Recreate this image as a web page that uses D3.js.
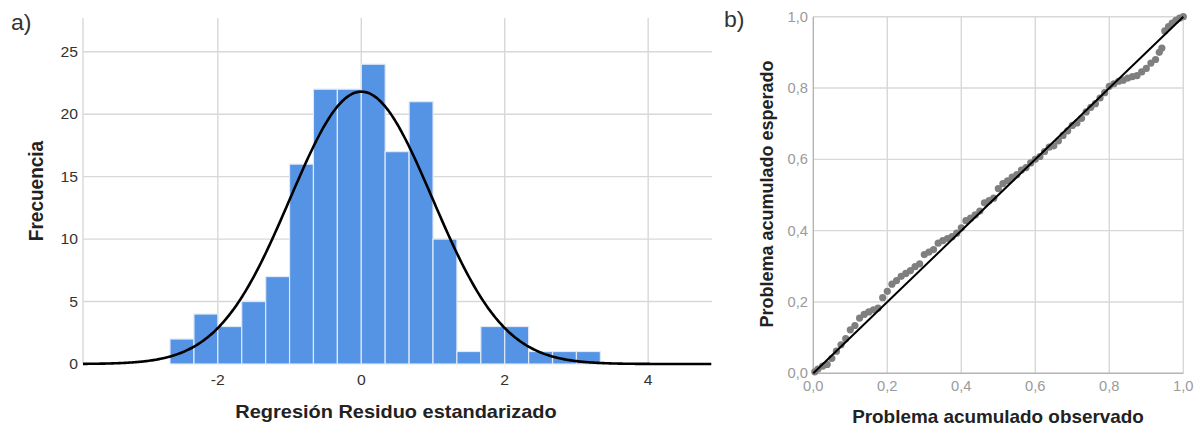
<!DOCTYPE html>
<html>
<head>
<meta charset="utf-8">
<script src="https://cdn.jsdelivr.net/npm/d3@7"></script>
<style>
  body { margin: 0; background: #fff; }
  svg { display: block; }
  text { font-family: "Liberation Sans", Arial, sans-serif; }
</style>
</head>
<body>
<svg id="chart" width="1195" height="427"></svg>
<script>
// ---- histogram (a) ----
const binLefts = [-2.667, -2.333, -2, -1.667, -1.333, -1, -0.667, -0.333, 0, 0.333, 0.667, 1, 1.333, 1.667, 2, 2.333, 2.667, 3]
const binWidth = 1 / 3
const binCounts = [2, 4, 3, 5, 7, 16, 22, 22, 24, 17, 21, 10, 1, 3, 3, 1, 1, 1]
const histXTicks = [-2, 0, 2, 4]
const histYTicks = [0, 5, 10, 15, 20, 25]
// fitted normal curve
const curveMean = 0
const curveSd = 0.994

// ---- P-P plot (b): [observed, expected] ----
const ppPoints = [
    [0.004, 0.004], [0.0125, 0.012], [0.025, 0.02], [0.0375, 0.025], [0.05, 0.042], [0.0625, 0.062],
    [0.075, 0.08], [0.0875, 0.097], [0.1, 0.122], [0.1125, 0.134], [0.125, 0.155], [0.1375, 0.165],
    [0.15, 0.172], [0.1625, 0.178], [0.175, 0.183], [0.1875, 0.212], [0.2, 0.23], [0.2125, 0.25],
    [0.225, 0.26], [0.2375, 0.272], [0.25, 0.28], [0.2625, 0.288], [0.275, 0.299], [0.2875, 0.307],
    [0.3, 0.333], [0.3125, 0.34], [0.325, 0.347], [0.3375, 0.365], [0.35, 0.372], [0.3625, 0.378],
    [0.375, 0.383], [0.3875, 0.393], [0.4, 0.408], [0.4125, 0.428], [0.425, 0.435], [0.4375, 0.444],
    [0.45, 0.455], [0.4625, 0.478], [0.475, 0.484], [0.4875, 0.491], [0.5, 0.518], [0.5125, 0.532],
    [0.525, 0.54], [0.5375, 0.55], [0.55, 0.557], [0.5625, 0.57], [0.575, 0.577], [0.5875, 0.59],
    [0.6, 0.6], [0.6125, 0.608], [0.625, 0.622], [0.6375, 0.634], [0.65, 0.638], [0.6625, 0.652],
    [0.675, 0.667], [0.6875, 0.68], [0.7, 0.695], [0.7125, 0.702], [0.725, 0.715], [0.7375, 0.733],
    [0.75, 0.746], [0.7625, 0.756], [0.775, 0.772], [0.7875, 0.787], [0.8, 0.805], [0.8125, 0.812],
    [0.825, 0.819], [0.8375, 0.822], [0.85, 0.828], [0.8625, 0.832], [0.875, 0.835], [0.8875, 0.845],
    [0.9, 0.855], [0.9125, 0.87], [0.925, 0.88], [0.935, 0.9], [0.942, 0.912],
    [0.95, 0.96], [0.96, 0.972], [0.97, 0.982], [0.98, 0.99], [0.99, 0.996], [1.0, 1.0]
]
const ppTicks = [0, 0.2, 0.4, 0.6, 0.8, 1.0]

const svg = d3.select('#chart')
const stretch = 1.05   // the reference text is a touch wider than tall
const gridColor = '#d8d8d8'

let addText = (g, str, x, y, opts) => {
    let rot = opts.rotate ? ' rotate(-90) scale(1,' + stretch + ')' : ' scale(' + stretch + ',1)'
    return g.append('text')
        .text(str)
        .attr('transform', 'translate(' + x + ',' + y + ')' + rot)
        .attr('text-anchor', opts.anchor || 'middle')
        .attr('font-size', opts.size)
        .attr('font-weight', opts.weight || 'normal')
        .attr('fill', opts.fill || '#222')
}

// ================= (a) histogram =================
const hx = d3.scaleLinear().domain([-3.88, 4.89]).range([83, 712])
const hy = d3.scaleLinear().domain([0, 27.7]).range([364, 18])
const ga = svg.append('g')

ga.selectAll('.hgrid')
    .data(histYTicks.filter(d => d > 0))
    .enter()
    .append('line')
    .attr('x1', hx.range()[0]).attr('x2', hx.range()[1])
    .attr('y1', d => hy(d)).attr('y2', d => hy(d))
    .attr('stroke', gridColor).attr('stroke-width', 1.4)

ga.selectAll('.vgrid')
    .data(histXTicks)
    .enter()
    .append('line')
    .attr('x1', d => hx(d)).attr('x2', d => hx(d))
    .attr('y1', hy.range()[0]).attr('y2', hy.range()[1])
    .attr('stroke', gridColor).attr('stroke-width', 1.4)

// left frame line
ga.append('line')
    .attr('x1', hx.range()[0]).attr('x2', hx.range()[0])
    .attr('y1', hy.range()[0]).attr('y2', hy.range()[1])
    .attr('stroke', gridColor).attr('stroke-width', 1.4)

ga.selectAll('rect')
    .data(binLefts)
    .enter()
    .append('rect')
    .attr('x', d => hx(d))
    .attr('width', d => hx(d + binWidth) - hx(d))
    .attr('y', (d, i) => hy(binCounts[i]))
    .attr('height', (d, i) => hy(0) - hy(binCounts[i]))
    .attr('fill', '#5593e4')
    .attr('stroke', '#dfe9f8')
    .attr('stroke-width', 1.2)

const total = d3.sum(binCounts)
const curveLine = d3.line()
    .x(d => hx(d))
    .y(d => hy(total * binWidth * Math.exp(-0.5 * Math.pow((d - curveMean) / curveSd, 2)) / (curveSd * Math.sqrt(2 * Math.PI))))
    .curve(d3.curveBasis)

ga.append('path')
    .attr('d', curveLine(d3.range(hx.domain()[0], hx.domain()[1] + 0.001, 0.02)))
    .attr('fill', 'none')
    .attr('stroke', '#000')
    .attr('stroke-width', 2.6)

histYTicks.forEach(t => {
    addText(ga, t, 78, hy(t) + 5, { anchor: 'end', size: 15, fill: '#333' })
})
histXTicks.forEach(t => {
    addText(ga, t < 0 ? '-' + Math.abs(t) : t, hx(t), 385, { size: 15, fill: '#333' })
})
addText(ga, 'Regresión Residuo estandarizado', 396, 418, { size: 19, weight: 'bold' })
addText(ga, 'Frecuencia', 43, 191, { size: 19, weight: 'bold', rotate: true })
addText(ga, 'a)', 11, 30, { anchor: 'start', size: 22, fill: '#333' }).attr('font-family', 'Lato').attr('font-weight', 300)

// ================= (b) P-P plot =================
const px = d3.scaleLinear().domain([0, 1]).range([813.3, 1183.3])
const py = d3.scaleLinear().domain([0, 1]).range([373.3, 16.7])
const gb = svg.append('g')

gb.selectAll('.ppv')
    .data(ppTicks.filter(d => d > 0))
    .enter()
    .append('line')
    .attr('x1', d => px(d)).attr('x2', d => px(d))
    .attr('y1', py(0)).attr('y2', py(1))
    .attr('stroke', gridColor).attr('stroke-width', 1.4)

gb.selectAll('.pph')
    .data(ppTicks.filter(d => d > 0))
    .enter()
    .append('line')
    .attr('x1', px(0)).attr('x2', px(1))
    .attr('y1', d => py(d)).attr('y2', d => py(d))
    .attr('stroke', gridColor).attr('stroke-width', 1.4)

gb.append('line')
    .attr('x1', px(0)).attr('x2', px(0)).attr('y1', py(0)).attr('y2', py(1))
    .attr('stroke', '#b4b4b4').attr('stroke-width', 1.4)
gb.append('line')
    .attr('x1', px(0)).attr('x2', px(1)).attr('y1', py(0)).attr('y2', py(0))
    .attr('stroke', '#b4b4b4').attr('stroke-width', 1.4)

gb.selectAll('circle')
    .data(ppPoints)
    .enter()
    .append('circle')
    .attr('cx', d => px(d[0]))
    .attr('cy', d => py(d[1]))
    .attr('r', 3.6)
    .attr('fill', '#7f7f7f')

gb.append('line')
    .attr('x1', px(0)).attr('y1', py(0))
    .attr('x2', px(1)).attr('y2', py(1))
    .attr('stroke', '#000').attr('stroke-width', 2)

let fmt = d => d3.format('.1f')(d).replace('.', ',')
ppTicks.forEach(t => {
    addText(gb, fmt(t), 808, py(t) + 5, { anchor: 'end', size: 14, fill: '#9a9a9a' })
    addText(gb, fmt(t), px(t), 391, { size: 14, fill: '#9a9a9a' })
})
addText(gb, 'Problema acumulado observado', 998, 422.5, { size: 18, weight: 'bold' })
addText(gb, 'Problema acumulado esperado', 773, 194, { size: 18, weight: 'bold', rotate: true })
addText(gb, 'b)', 724, 27, { anchor: 'start', size: 22, fill: '#333' }).attr('font-family', 'Lato').attr('font-weight', 300)
</script>
</body>
</html>
